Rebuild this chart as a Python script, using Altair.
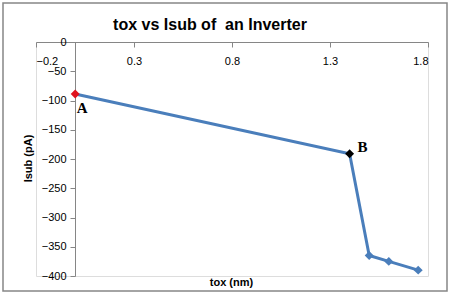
import altair as alt
import pandas as pd

# Oxide thickness (nm) against substrate current (pA)
tox = [0.0, 1.4, 1.5, 1.6, 1.75]
isub = [-89, -191, -365, -375, -390]
point_labels = ["A", "B", "", "", ""]
marker_colors = ["#E0131E", "#000000", "#4A7EBB", "#4A7EBB", "#4A7EBB"]

x_ticks = [-0.2, 0.3, 0.8, 1.3, 1.8]
y_ticks = [0, -50, -100, -150, -200, -250, -300, -350, -400]
# non-breaking space keeps the double gap in the title
chart_title = "tox vs Isub of\u00a0 an Inverter"

df = pd.DataFrame({"tox": tox, "isub": isub, "label": point_labels, "color": marker_colors})

W, H = 392, 234
AXIS_GRAY = "#868686"
LINE_BLUE = "#4A7EBB"

x_scale = alt.Scale(domain=[-0.2, 1.8], nice=False, zero=False)
y_scale = alt.Scale(domain=[-400, 0], nice=False)

x_enc = alt.X(
    "tox:Q",
    scale=x_scale,
    axis=alt.Axis(
        orient="bottom", offset=-H, values=x_ticks, format=".1f",
        title="tox (nm)", titleFontSize=11, titleFontWeight="bold",
        titleFont="Liberation Sans", titleColor="#000000",
        titleX=W / 2 - 1, titleY=H + 6, titleBaseline="middle",
        titleAnchor="middle",
        domainColor=AXIS_GRAY, tickColor=AXIS_GRAY, tickSize=5,
        labelPadding=8, labelFontSize=11, labelFont="Liberation Sans",
        labelColor="#000000", labelOverlap=False, grid=False,
    ),
)
y_enc = alt.Y(
    "isub:Q",
    scale=y_scale,
    axis=alt.Axis(
        orient="left", offset=-39, values=y_ticks, tickCount=9,
        title="Isub (pA)", titleFontSize=11, titleFontWeight="bold",
        titleFont="Liberation Sans", titleColor="#000000",
        titleAngle=270, titleX=-47, titleY=116, titleBaseline="middle",
        titleAlign="center",
        domainColor=AXIS_GRAY, tickColor=AXIS_GRAY, tickSize=5,
        labelPadding=4, labelFontSize=11, labelFont="Liberation Sans",
        labelColor="#000000", labelOverlap=False, grid=False,
    ),
)

base = alt.Chart(df).encode(x=x_enc, y=y_enc)

line = base.mark_line(color=LINE_BLUE, strokeWidth=3)

points = base.mark_point(
    shape="diamond", filled=True, size=80, opacity=1
).encode(color=alt.Color("color:N", scale=None))

label_a = base.mark_text(
    font="Liberation Serif", fontWeight="bold", fontSize=15,
    dx=7, dy=14, color="#000000",
).encode(text="label:N").transform_filter(alt.datum.label == "A")

label_b = base.mark_text(
    font="Liberation Serif", fontWeight="bold", fontSize=15,
    dx=13, dy=-7, color="#000000",
).encode(text="label:N").transform_filter(alt.datum.label == "B")

# Chart title, set above the plot area
title = alt.Chart(df.head(1)).mark_text(
    font="Liberation Sans", fontSize=16, fontWeight="bold",
    color="#000000", align="center", baseline="alphabetic",
).encode(x=alt.value(174), y=alt.value(-12), text=alt.value(chart_title))

# Outer frame around the whole figure
frame = alt.Chart(df.head(1)).mark_rect(
    fill=None, stroke=AXIS_GRAY, strokeWidth=1.5, clip=False
).encode(
    x=alt.value(-33), x2=alt.value(411),
    y=alt.value(-39), y2=alt.value(249),
)

chart = alt.layer(line, points, label_a, label_b, frame, title).properties(
    width=W, height=H,
    autosize=alt.AutoSizeParams(type="none"),
    padding={"left": 36, "top": 42, "right": 22, "bottom": 18},
).configure_view(stroke=None).configure(background="#FFFFFF")

chart.save("out.html", embed_options={"renderer": "svg", "actions": False})
